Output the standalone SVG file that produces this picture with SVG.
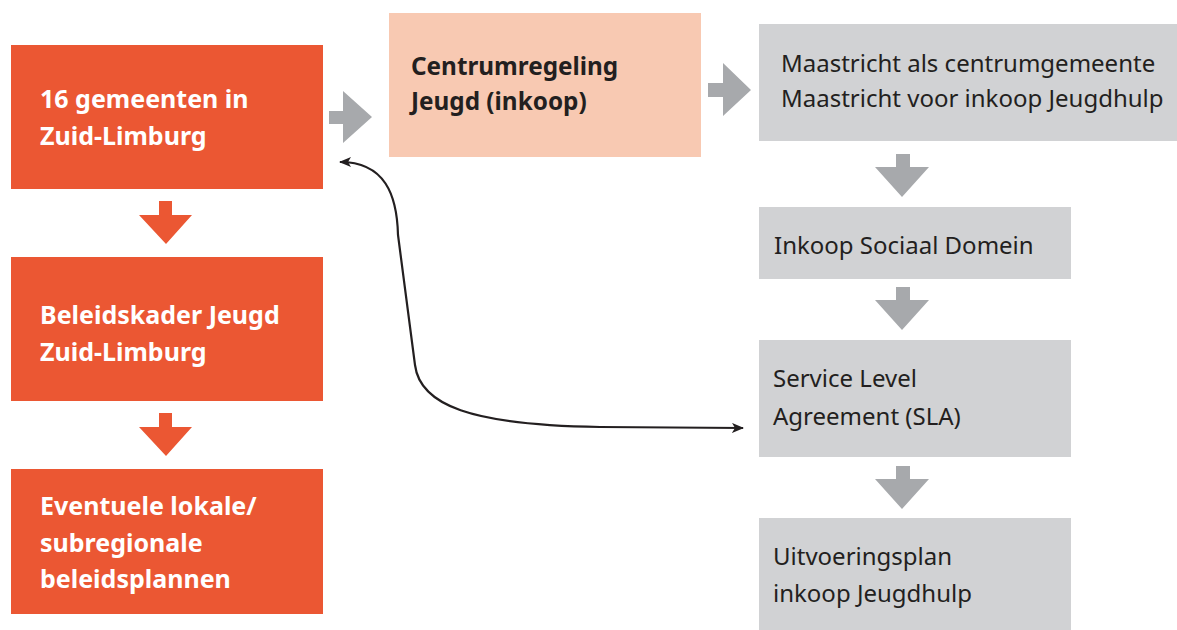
<svg xmlns="http://www.w3.org/2000/svg" width="1177" height="630" viewBox="0 0 1177 630">
<style>
.orange{fill:#EB5733}
.peach{fill:#F8C9B2}
.gray{fill:#D1D2D4}
.bt{font-family:"Noto Sans","Open Sans",sans-serif;font-weight:bold;font-size:25px;fill:#FFFFFF}
.pt{font-family:"Noto Sans","Open Sans",sans-serif;font-weight:bold;font-size:24.3px;fill:#231F20}
.gt{font-family:"Noto Sans","Open Sans",sans-serif;font-size:24px;fill:#231F20}
.ga{fill:#A7A9AC}
.oa{fill:#EB5733}
.conn{fill:none;stroke:#231F20;stroke-width:2.2}
</style>
<defs>
<marker id="ah" viewBox="0 0 12 10" refX="11" refY="5" markerWidth="12" markerHeight="10" markerUnits="userSpaceOnUse" orient="auto-start-reverse">
<path d="M0,0 L12,5 L0,10 L3,5 Z" fill="#231F20"/>
</marker>
</defs>
<rect width="1177" height="630" fill="#FFFFFF"/>
<g id="n1"><rect class="orange" x="11" y="45" width="312" height="144"/>
<text class="bt" x="40" y="108">16 gemeenten in</text><text class="bt" x="40" y="145">Zuid-Limburg</text></g>
<g id="n2"><rect class="orange" x="11" y="257" width="312" height="144"/>
<text class="bt" x="40" y="324">Beleidskader Jeugd</text><text class="bt" x="40" y="361">Zuid-Limburg</text></g>
<g id="n3"><rect class="orange" x="11" y="469" width="312" height="145"/>
<text class="bt" x="40" y="515">Eventuele lokale/</text><text class="bt" x="40" y="552">subregionale</text><text class="bt" x="40" y="588">beleidsplannen</text></g>
<g id="n4"><rect class="peach" x="389" y="13" width="312" height="144"/>
<text class="pt" x="411" y="75">Centrumregeling</text><text class="pt" x="411" y="110">Jeugd (inkoop)</text></g>
<g id="n5"><rect class="gray" x="759" y="24" width="418" height="117"/>
<text class="gt" x="781" y="72">Maastricht als centrumgemeente</text><text class="gt" x="781" y="107">Maastricht voor inkoop Jeugdhulp</text></g>
<g id="n6"><rect class="gray" x="759" y="207" width="312" height="72"/>
<text class="gt" x="774" y="254">Inkoop Sociaal Domein</text></g>
<g id="n7"><rect class="gray" x="759" y="340" width="312" height="117"/>
<text class="gt" x="773" y="387">Service Level</text><text class="gt" x="773" y="425">Agreement (SLA)</text></g>
<g id="n8"><rect class="gray" x="759" y="518" width="312" height="112"/>
<text class="gt" x="773" y="565">Uitvoeringsplan</text><text class="gt" x="773" y="602">inkoop Jeugdhulp</text></g>
<g id="connectors">
<path class="ga" d="M329,111 H343 V91 L372,117 L343,143 V124 H329 Z"/>
<path class="ga" d="M708,83 H723 V63 L751,90 L723,116 V97 H708 Z"/>
<path class="oa" d="M159,201 H172 V215 H192 L166,244 L139,215 H159 Z"/>
<path class="oa" d="M159,413 H172 V427 H192 L166,456 L139,427 H159 Z"/>
<path class="ga" d="M896,154 H910 V167 H929 L902,197 L875,167 H896 Z"/>
<path class="ga" d="M896,287 H910 V300 H929 L902,330 L875,300 H896 Z"/>
<path class="ga" d="M896,466 H910 V479 H929 L902,509 L875,479 H896 Z"/>
<path class="conn" marker-start="url(#ah)" marker-end="url(#ah)" d="M340,162 C385,162 397,195 398,235 L415,365 C420,405 470,425 600,427 L743,428"/>
</g>
</svg>
